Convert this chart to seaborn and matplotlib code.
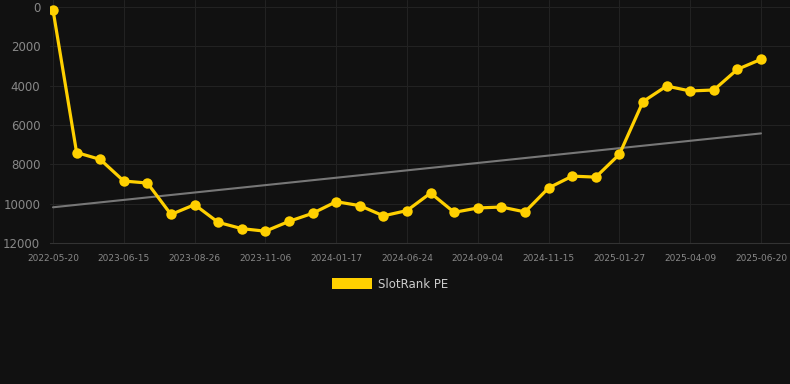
import numpy as np
import pandas as pd
import matplotlib
matplotlib.use("Agg")
import matplotlib.pyplot as plt
import seaborn as sns
from matplotlib.patches import Patch

dates = ["2022-05-20", "2022-07-13", "2022-09-05", "2023-04-22", "2023-05-22",
         "2023-06-15", "2023-07-20", "2023-08-26", "2023-10-01", "2023-10-20",
         "2023-11-06", "2023-12-10", "2024-01-17", "2024-02-20", "2024-03-25",
         "2024-06-24", "2024-07-15", "2024-08-10", "2024-09-04", "2024-09-30",
         "2024-10-20", "2024-11-15", "2024-12-10", "2025-01-05", "2025-01-27",
         "2025-02-20", "2025-03-15", "2025-04-09", "2025-05-01", "2025-05-25",
         "2025-06-20"]
rank = [150, 7400, 7750, 8850, 8950, 10550, 10050, 10950, 11270, 11400,
        10900, 10490, 9900, 10100, 10620, 10350, 9460, 10440, 10220, 10170,
        10420, 9200, 8600, 8650, 7490, 4810, 4020, 4270, 4220, 3170, 2660]
tick_labels = ["2022-05-20", "2023-06-15", "2023-08-26", "2023-11-06", "2024-01-17",
               "2024-06-24", "2024-09-04", "2024-11-15", "2025-01-27", "2025-04-09",
               "2025-06-20"]
y_ticks = [0, 2000, 4000, 6000, 8000, 10000, 12000]

df = pd.DataFrame({"date": dates, "rank": rank})
df["idx"] = np.arange(len(df))
coef = np.polyfit(df["idx"], df["rank"], 1)
df["trend"] = np.polyval(coef, df["idx"])

bg = "#111111"
sns.set_theme(style="dark", rc={"axes.facecolor": bg, "figure.facecolor": bg})
plt.rcParams["font.family"] = ["DejaVu Sans"]

fig = plt.figure(figsize=(7.9, 3.84), dpi=100)
ax = fig.add_axes([50 / 790, 1 - 243 / 384, 740 / 790, 243 / 384])
ax.set_facecolor(bg)

sns.lineplot(data=df, x="idx", y="trend", ax=ax, color="#777777", linewidth=1.5, zorder=2)
sns.lineplot(data=df, x="idx", y="rank", ax=ax, color="#FFD000", linewidth=2.3,
             marker="o", markersize=7.5, markeredgewidth=0, zorder=3)

sp = 23.6
ax.set_xlim(-3 / sp, 737 / sp)
ax.set_ylim(12000, -7 / 236 * 12000)
ax.set_xticks(np.arange(0, len(df), 3))
ax.set_xticklabels(tick_labels)
ax.set_yticks(y_ticks)
ax.set_yticklabels([str(v) for v in y_ticks])
ax.set_xlabel("")
ax.set_ylabel("")
ax.grid(True, color="#222222", linewidth=0.8)
ax.set_axisbelow(True)
for s in ["top", "right", "left"]:
    ax.spines[s].set_visible(False)
ax.spines["bottom"].set_color("#333333")
ax.spines["bottom"].set_linewidth(0.8)
ax.tick_params(axis="x", colors="#222222", labelcolor="#888888", labelsize=6.5, length=5, width=0.8, pad=3)
ax.tick_params(axis="y", length=0, labelcolor="#888888", labelsize=8.5, pad=7)

handle = Patch(facecolor="#FFD000", edgecolor="none")
fig.legend([handle], ["SlotRank PE"], loc="center", bbox_to_anchor=(390 / 790, 1 - 284 / 384),
           frameon=False, fontsize=8.5, labelcolor="#cccccc", handlelength=3.4, handleheight=1.0,
           handletextpad=0.5)

fig.savefig("out.png", dpi=100, facecolor=bg)
